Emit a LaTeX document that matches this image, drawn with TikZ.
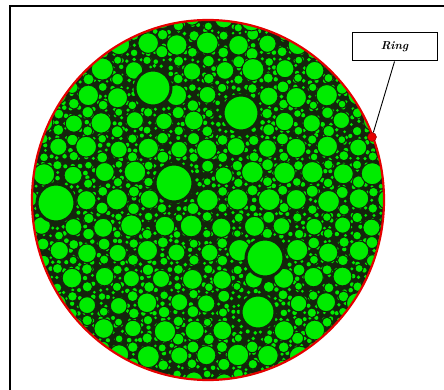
\documentclass[tikz,border=0pt]{standalone}
\usepackage{tikz}
\usetikzlibrary{positioning}

\definecolor{pellet}{RGB}{0,236,0}
\definecolor{gapdark}{RGB}{20,36,12}
\definecolor{ringred}{RGB}{228,0,0}

\begin{document}
\begin{tikzpicture}[
    x=1pt, y=-1pt,
    frame/.style    = {draw=black, line width=2pt},
    tinyg/.style    = {fill=pellet},
    grain/.style    = {fill=pellet, draw=gapdark, line width=1pt},
    biggrain/.style = {grain, line width=3pt},
    ringline/.style = {draw=ringred, line width=2.2pt},
    tagbox/.style   = {draw=black, line width=1pt, fill=white, minimum width=85pt,
                       minimum height=28pt, font=\fontsize{11.5}{13}\selectfont\bfseries\itshape},
    pin/.style      = {circle, fill=ringred, draw=ringred!60!black, line width=0.4pt,
                       inner sep=0pt, minimum size=9pt},
    link/.style     = {draw=black, line width=0.9pt},
]

%--- page and frame
\clip (0,0) rectangle (444,390);
\draw[frame] (10,6) rectangle (470,420);

%--- packed grains, clipped to the ring
\pgfmathsetseed{4242}
\begin{scope}
\clip (208,200) ellipse [x radius=176, y radius=180];
\fill[gapdark] (20,10) rectangle (400,390);

% tiny filler
\foreach \i in {0,...,51}{
  \foreach \j in {0,...,52}{
    \pgfmathsetmacro\cx{30+7*\i+1.8*rand}
    \pgfmathsetmacro\cy{18+7*\j+1.8*rand}
    \pgfmathsetmacro\rr{1.9+0.5*rand}
    \fill[tinyg] (\cx,\cy) circle [radius=\rr];
  }
}

% small grains in the lattice holes
\foreach \j in {-8,...,7}{
  \foreach \i in {-7,...,6}{
    \pgfmathsetmacro\bx{208+30*\i+15*mod(abs(\j),2)}
    \pgfmathsetmacro\by{200+26*\j}
    \pgfmathsetmacro\cx{\bx+15+1.2*rand}
    \pgfmathsetmacro\cy{\by+8.67+1.2*rand}
    \pgfmathsetmacro\rr{5+1.1*rand}
    \pgfmathsetmacro\dd{min(veclen(\cx-241,\cy-113),veclen(\cx-153,\cy-88),veclen(\cx-174,\cy-183),veclen(\cx-56,\cy-203),veclen(\cx-265,\cy-258),veclen(\cx-258,\cy-312))}
    \ifdim\dd pt>24pt \filldraw[grain] (\cx,\cy) circle [radius=\rr]; \fi
    \pgfmathsetmacro\cx{\bx+30+1.2*rand}
    \pgfmathsetmacro\cy{\by+17.33+1.2*rand}
    \pgfmathsetmacro\rr{5+1.1*rand}
    \pgfmathsetmacro\dd{min(veclen(\cx-241,\cy-113),veclen(\cx-153,\cy-88),veclen(\cx-174,\cy-183),veclen(\cx-56,\cy-203),veclen(\cx-265,\cy-258),veclen(\cx-258,\cy-312))}
    \ifdim\dd pt>24pt \filldraw[grain] (\cx,\cy) circle [radius=\rr]; \fi
  }
}

% medium grains on a shaken lattice
\foreach \j in {-7,...,7}{
  \foreach \i in {-7,...,6}{
    \pgfmathsetmacro\cx{208+30*\i+15*mod(abs(\j),2)+2*rand}
    \pgfmathsetmacro\cy{200+26*\j+2*rand}
    \pgfmathsetmacro\rr{9.6+1.5*rand}
    \pgfmathsetmacro\dd{min(veclen(\cx-241,\cy-113),veclen(\cx-153,\cy-88),veclen(\cx-174,\cy-183),veclen(\cx-56,\cy-203),veclen(\cx-265,\cy-258),veclen(\cx-258,\cy-312))}
    \ifdim\dd pt>24pt \filldraw[grain] (\cx,\cy) circle [radius=\rr]; \fi
  }
}

% large grains
\foreach \bx/\by/\br in {241/113/18, 153/88/18, 174/183/19, 56/203/19, 265/258/19, 258/312/17}
  \filldraw[biggrain] (\bx,\by) circle [radius=\br];
\end{scope}

%--- ring and its label
\draw[ringline] (208,200) ellipse [x radius=176, y radius=180];

\node[pin] (dot) at (372,137) {};
\node[tagbox] (tag) at (394.5,47) {Ring};
\draw[link] (tag.south) -- (dot);

\end{tikzpicture}
\end{document}
